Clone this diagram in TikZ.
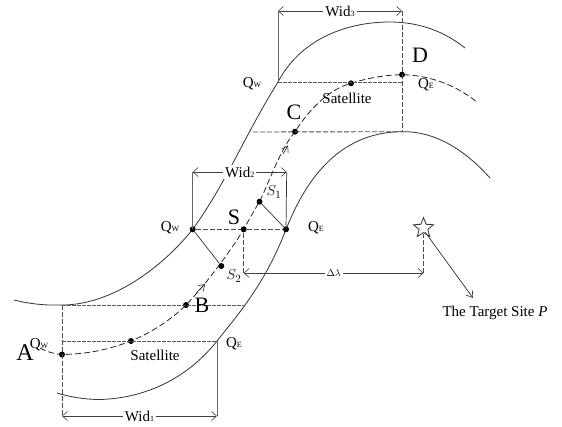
\documentclass[tikz,border=0pt]{standalone}
\usepackage{fontspec}
\setmainfont{Liberation Serif}
\usetikzlibrary{arrows.meta,shapes.geometric}
\newcommand{\fsz}[1]{\fontsize{#1}{#1}\selectfont}
\newcommand{\qq}[1]{Q{\fsz{8}#1}}
\newcommand{\wid}[1]{Wid{\fsz{8}#1}}
\tikzset{
 curve/.style={draw=black!80,line width=0.8pt},
 orbit/.style={draw=black!85,line width=0.8pt,dash pattern=on 6pt off 3pt},
 dashg/.style={draw=black!65,line width=0.9pt,dash pattern=on 3.5pt off 1.5pt},
 dashk/.style={draw=black!70,line width=0.9pt,dash pattern=on 5pt off 2pt},
 solg/.style={draw=black!60,line width=1pt},
 thin1/.style={draw=black!80,line width=0.7pt},
 tipb/.style={-{Straight Barb[length=6pt,width=8pt,line width=0.6pt]}},
 dimb/.style={draw=black!75,line width=0.7pt,{Straight Barb[length=5pt,width=9pt,line width=0.6pt]}-{Straight Barb[length=5pt,width=9pt,line width=0.6pt]}},
 dotn/.style={circle,fill=black,inner sep=0pt,minimum size=6pt},
 biglab/.style={font=\fsz{22},inner sep=0pt},
 qlab/.style={font=\fsz{15},inner sep=0pt},
 dimlab/.style={font=\fsz{15},inner sep=2pt,fill=white},
 caplab/.style={font=\fsz{15},inner sep=0pt},
}
\begin{document}
\begin{tikzpicture}[x=1pt,y=-1pt]
\useasboundingbox (0,0) rectangle (562,426);
% key coordinates
\coordinate (Wa) at (62,305);
\coordinate (Ea) at (217,341);
\coordinate (Eb) at (245,305);
\coordinate (Wm) at (192.7,229.3);
\coordinate (Em) at (286,229.3);
\coordinate (Wt) at (278,82);
\coordinate (Et) at (402,131.7);
\coordinate (Ct) at (253,132);
\coordinate (Wa0) at (62,416);
\coordinate (Ea0) at (217,416);
\coordinate (Wm0) at (192.7,172);
\coordinate (Em0) at (286.7,172);
\coordinate (Wt0) at (278,11);
\coordinate (Et0) at (402,11);
\coordinate (La) at (243.7,273);
\coordinate (Lb) at (423.5,273);
\coordinate (Lc) at (473,298);
% curves
\draw[curve] (14,300) .. controls (30,304) and (45,305.5) .. (Wa)
  .. controls (110,305) and (160,270) .. (Wm)
  .. controls (225,185) and (245,135) .. (Wt)
  .. controls (300,40) and (345,22) .. (390,22)
  .. controls (420,22) and (445,32) .. (465,48);
\draw[curve] (57,393) .. controls (70,397) and (85,399.5) .. (100,399.5)
  .. controls (150,398) and (190,375) .. (Ea)
  .. controls (235,318) and (265,285) .. (Em)
  .. controls (300,195) and (330,132) .. (Et)
  .. controls (435,131) and (465,150) .. (490,178);
\draw[orbit] (40,348) .. controls (47,352) and (55,354) .. (62,354.5)
  .. controls (90,354) and (110,349) .. (131,341)
  .. controls (150,333) and (170,321) .. (186,305)
  .. controls (205,285) and (228,255) .. (243.7,229.3)
  .. controls (250,218) and (255,209) .. (259.5,201.7)
  .. controls (270,180) and (280,150) .. (295,131.7)
  .. controls (310,108) and (330,89) .. (351,83.3)
  .. controls (368,78) and (385,75) .. (402,74.7)
  .. controls (430,75) and (458,86) .. (478,103);
% points
\node[dotn] (pA) at (62,354.5) {};
\node[dotn] (pSa) at (131,341) {};
\node[dotn] (pB) at (186,305) {};
\node[dotn] (pS) at (243.7,229.3) {};
\node[dotn] (pS1) at (259.5,201.7) {};
\node[dotn] (pS2) at (221.3,266) {};
\node[dotn] (pWm) at (Wm) {};
\node[dotn] (pEm) at (Em) {};
\node[dotn] (pC) at (295,131.7) {};
\node[dotn] (pSb) at (351,83.3) {};
\node[dotn] (pD) at (402,74.7) {};
% arrows on orbit
\draw[tipb,draw=black!80,line width=0.7pt] (196,293) -- (205,284);
\draw[tipb,draw=black!80,line width=0.7pt] (283,154) -- (288,145.5);
% guide lines
\draw[dashk] (Wa) -- (Wa0);
\draw[solg] (Ea) -- (Ea0);
\draw[dashg] (Wa) -- (Eb);
\draw[dashg] (62,341) -- (Ea);
\draw[solg] (Wm) -- (Wm0);
\draw[thin1] (Em) -- (Em0);
\draw[dashk] (pWm) -- (pS) -- (pEm);
\draw[thin1] (pWm) -- (pS2);
\draw[thin1] (pEm) -- (pS1);
\draw[solg] (Wt) -- (Wt0);
\draw[dashk] (Et0) -- (Et);
\draw[dashg] (Wt) -- (402,82);
\draw[dashk] (Ct) -- (Et);
\draw[dashk] (pS) -- (La);
\draw[dashk] (Lb) -- (423.5,234);
% dimensions
\draw[dimb] (Wa0) -- node[dimlab] {\wid{1}} (Ea0);
\draw[dimb] (Wm0) -- node[dimlab] {\wid{2}} (Em0);
\draw[dimb] (Wt0) -- node[dimlab] {\wid{3}} (Et0);
\draw[dimb] (La) -- node[font=\fsz{10},inner sep=2pt,fill=white] {$\Delta\lambda$} (Lb);
% star and target
\node[star,star points=5,star point ratio=2.3,draw=black!80,fill=white,line width=0.8pt,inner sep=0pt,minimum size=21pt] (st) at (423.5,228) {};
\draw[thin1,tipb] (425,232) -- (Lc);
\node[caplab,anchor=center] (tg) at (495,313) {The Target Site \textit{P}};
% big labels
\node[font=\fsz{24},inner sep=0pt] (lA) at (25,353) {A};
\node[biglab] (lB) at (202,305) {B};
\node[biglab] (lC) at (294,112) {C};
\node[biglab] (lD) at (420,55) {D};
\node[biglab] (lS) at (234,217.5) {S};
% Q labels
\node[qlab] (q1) at (39,345) {\qq{W}};
\node[qlab] (q2) at (234,344) {\qq{E}};
\node[qlab] (q3) at (170,228) {\qq{W}};
\node[qlab] (q4) at (316,228) {\qq{E}};
\node[qlab] (q5) at (252,84) {\qq{W}};
\node[qlab] (q6) at (426,85) {\qq{E}};
% satellites
\node[caplab] (s1) at (155,355) {Satellite};
\node[caplab] (s2) at (347,98) {Satellite};
% S1 S2
\node[qlab] (l1) at (274,192) {$S_1$};
\node[qlab] (l2) at (234,276) {$S_2$};
\end{tikzpicture}
\end{document}
